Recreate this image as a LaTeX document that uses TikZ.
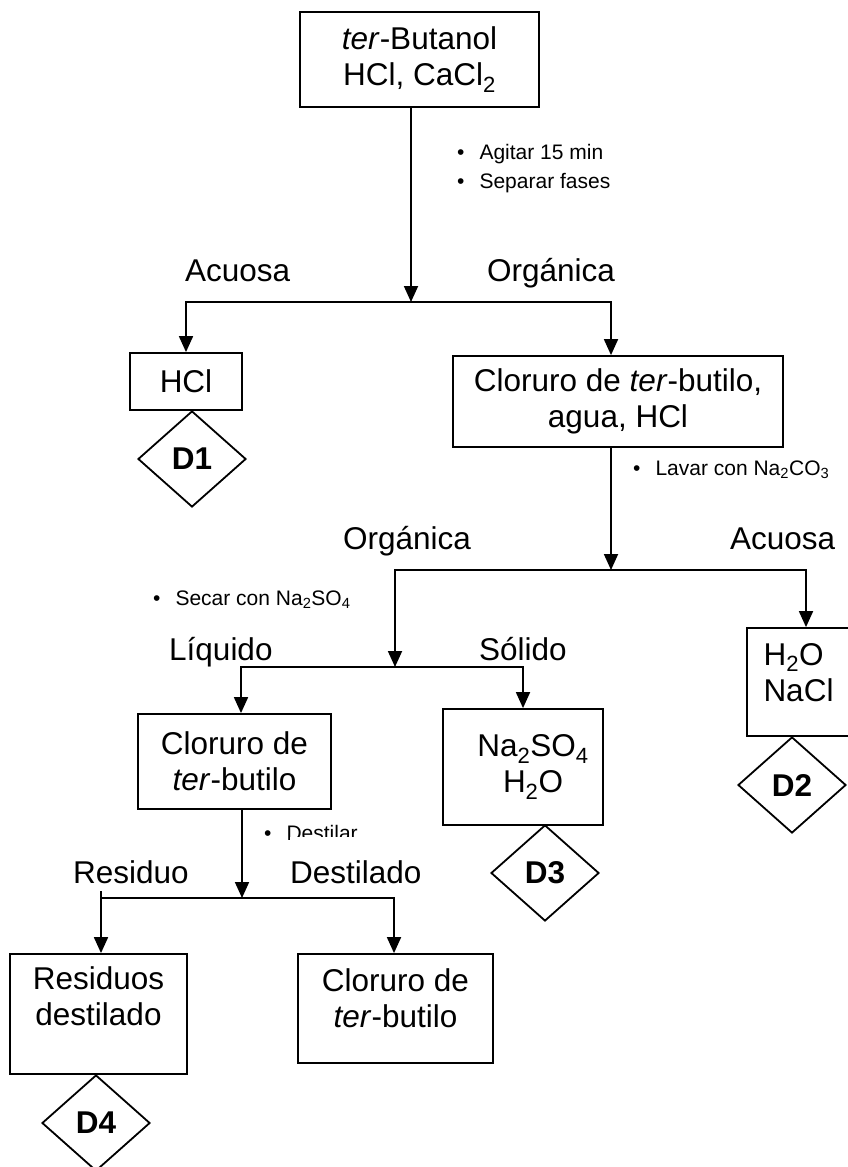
\documentclass[tikz,border=0pt]{standalone}
\usepackage{fontspec}
\setmainfont{Liberation Sans}
\usetikzlibrary{arrows.meta,positioning,calc,shapes.geometric}
\newcommand{\ter}{\textit{ter}}

\begin{document}
\begin{tikzpicture}[
  x=1pt, y=-1pt,
  font=\fontsize{31.5}{36}\selectfont,
  box/.style={draw, line width=1.8pt, align=center, inner sep=0pt},
  waste/.style={diamond, draw, line width=1.8pt, inner sep=0pt, minimum width=108pt, minimum height=96pt, font=\fontsize{31.5}{36}\selectfont\bfseries},
  phase/.style={anchor=base west, inner sep=0pt},
  note/.style={anchor=base west, inner sep=0pt, align=left, font=\fontsize{21}{29}\selectfont},
  arr/.style={-{Triangle[length=16pt,width=14pt]}, line width=1.8pt},
  ln/.style={line width=1.8pt}
]
\useasboundingbox (0,0) rectangle (847,1167);

% boxes
\node[box, minimum width=239pt, minimum height=95pt] (butanol) at (419.5,59.5) {\ter-Butanol\\HCl, CaCl\textsubscript{2}};
\node[box, minimum width=112pt, minimum height=57pt] (hcl) at (186,381.5) {HCl};
\node[waste] (d1) at (192,459) {D1};
\node[box, minimum width=330pt, minimum height=91pt] (mezcla) at (618,401.5) {Cloruro de \ter-butilo,\\agua, HCl};
\node[box, minimum width=103pt, minimum height=108pt, align=left] (acuosa) at (798.5,682) {H\textsubscript{2}O\\NaCl\\[-16pt]\mbox{}};
\node[waste] (d2) at (792,785) {D2};
\node[box, minimum width=193pt, minimum height=95pt] (liquido) at (234.5,761.5) {Cloruro de\\\ter-butilo};
\node[box, minimum width=160pt, minimum height=116pt] (solido) at (523,767) {\hspace*{20pt}Na\textsubscript{2}SO\textsubscript{4}\\\hspace*{20pt}H\textsubscript{2}O};
\node[waste] (d3) at (545,873) {D3};
\node[box, minimum width=177pt, minimum height=120pt] (residuo) at (98.5,1014) {Residuos\\destilado\\\mbox{}};
\node[waste] (d4) at (96,1123) {D4};
\node[box, minimum width=195pt, minimum height=109pt] (producto) at (395.5,1008.5) {Cloruro de\\\ter-butilo\\[-15pt]\mbox{}};

% labels
\node[phase] (acu1) at (185,281) {Acuosa};
\node[phase] (org1) at (487,281) {Orgánica};
\node[phase] (org2) at (343,549) {Orgánica};
\node[phase] (acu2) at (730,549) {Acuosa};
\node[phase] (liq) at (169,660) {Líquido};
\node[phase] (sol) at (479,660) {Sólido};
\node[phase] (res) at (73,883) {Residuo};
\node[note] (agitar) at (457,188.5) {\textbullet\hspace{15pt}Agitar 15 min\\\textbullet\hspace{15pt}Separar fases};
\node[note] (lavar) at (633,475.5) {\textbullet\hspace{15pt}Lavar con Na\textsubscript{2}CO\textsubscript{3}};
\node[note] (secar) at (153,605.5) {\textbullet\hspace{15pt}Secar con Na\textsubscript{2}SO\textsubscript{4}};
\node[note] (destilar) at (264,840) {\textbullet\hspace{15pt}Destilar};
\node[phase, fill=white, text height=46pt] (dest) at (290,883) {Destilado};

% splits
\coordinate (s1) at (411,302);
\coordinate (s1r) at (611,302);
\draw[arr] (butanol.south -| s1) -- (s1);
\draw[arr] (s1) -- (hcl.north |- s1) -- (hcl.north);
\draw[arr] (s1) -- (s1r) -- (s1r |- mezcla.north);

\coordinate (s2) at (611,570);
\coordinate (s2l) at (395,570);
\coordinate (s2r) at (806,570);
\coordinate (s3) at (395,667);
\draw[arr] (mezcla.south -| s2) -- (s2);
\draw[arr] (s2) -- (s2r) -- (s2r |- acuosa.north);
\draw[arr] (s2) -- (s2l) -- (s3);

\coordinate (s3l) at (241,667);
\coordinate (s3r) at (523,667);
\draw[arr] (s3) -- (s3l) -- (s3l |- liquido.north);
\draw[arr] (s3) -- (s3r) -- (solido.north);

\coordinate (s4) at (242,898);
\coordinate (s4l) at (101,898);
\coordinate (s4r) at (394,898);
\draw[arr] (liquido.south -| s4) -- (s4);
\draw[arr] (s4) -- (s4r) -- (s4r |- producto.north);
\draw[ln] (s4) -- (s4l);
\draw[arr] ([yshift=7pt]s4l) -- (s4l |- residuo.north);
\end{tikzpicture}
\end{document}
